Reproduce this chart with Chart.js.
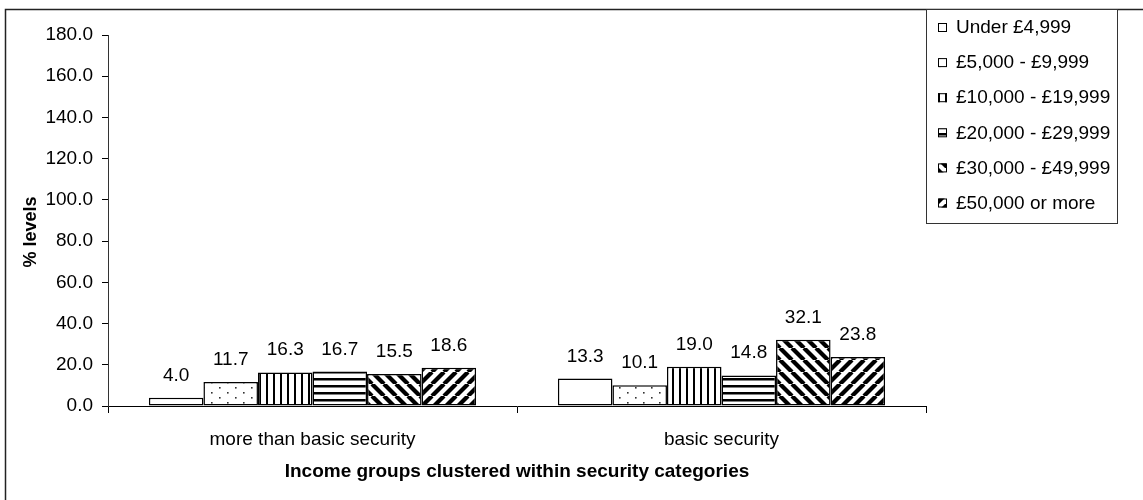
<!DOCTYPE html>
<html><head><meta charset="utf-8">
<script src="https://cdn.jsdelivr.net/npm/chart.js@4.4.1/dist/chart.umd.min.js"></script>
<style>html,body{margin:0;padding:0;background:#fff}#wrap{position:relative;width:1143px;height:500px}</style>
</head><body><div id="wrap"><canvas id="c"></canvas></div>
<script>
// ---- data ----
const categories = ['more than basic security', 'basic security'];
const seriesNames = ['Under £4,999', '£5,000 - £9,999', '£10,000 - £19,999', '£20,000 - £29,999', '£30,000 - £49,999', '£50,000 or more'];
const under5k = [4.0, 13.3];
const from5kTo10k = [11.7, 10.1];
const from10kTo20k = [16.3, 19.0];
const from20kTo30k = [16.7, 14.8];
const from30kTo50k = [15.5, 32.1];
const over50k = [18.6, 23.8];
const yMin = 0, yMax = 180, yStep = 20;
const xTitle = 'Income groups clustered within security categories';
const yTitle = '% levels';

// ---- patterns ----
const FONT = '"Liberation Sans", Arial, sans-serif';
const canvas = document.getElementById('c');
const mainCtx = canvas.getContext('2d');
function mk(w, h, draw) {
  const c = document.createElement('canvas'); c.width = w; c.height = h;
  const x = c.getContext('2d');
  x.fillStyle = '#fff'; x.fillRect(0, 0, w, h);
  x.fillStyle = '#000'; x.strokeStyle = '#000';
  draw(x, w, h);
  return mainCtx.createPattern(c, 'repeat');
}
const patWhite = '#ffffff';
const patDots = mk(16, 10, (x) => { x.fillStyle = '#333'; x.fillRect(3, 2, 1.6, 1.6); x.fillRect(11, 7, 1.6, 1.6); });
const patVert = mk(7, 7, (x) => { x.fillRect(0, 0, 2, 7); });
const patHorz = mk(7, 7, (x) => { x.fillRect(0, 0, 7, 2.5); });
const patBack = mk(12, 12, (x) => { x.lineWidth = 4.2; for (let k = -1; k <= 1; k++) { x.beginPath(); x.moveTo(k * 12, 0); x.lineTo(k * 12 + 12, 12); x.stroke(); } });
const patFwd = mk(12, 12, (x) => { x.lineWidth = 4.2; for (let k = -1; k <= 1; k++) { x.beginPath(); x.moveTo(k * 12, 12); x.lineTo(k * 12 + 12, 0); x.stroke(); } });

const seriesValues = [under5k, from5kTo10k, from10kTo20k, from20kTo30k, from30kTo50k, over50k];
const fills = [patWhite, patDots, patVert, patHorz, patBack, patFwd];

const datasets = seriesNames.map((n, i) => ({
  label: n, data: seriesValues[i], backgroundColor: fills[i],
  borderColor: '#000', borderWidth: 1.5, borderSkipped: false,
  barPercentage: 1.0, categoryPercentage: 0.8
}));

// ---- plugins ----
const framePlugin = {
  id: 'frame',
  beforeDraw(chart) {
    const ctx = chart.ctx; ctx.save();
    ctx.fillStyle = '#fff'; ctx.fillRect(0, 0, chart.width, chart.height);
    ctx.strokeStyle = '#222'; ctx.lineWidth = 1.5;
    ctx.beginPath(); ctx.moveTo(5.5, chart.height + 2); ctx.lineTo(5.5, 9.5); ctx.lineTo(chart.width + 2, 9.5); ctx.stroke();
    ctx.restore();
  }
};
const valuePlugin = {
  id: 'vals',
  afterDatasetsDraw(chart) {
    const ctx = chart.ctx; ctx.save();
    ctx.font = '19px ' + FONT; ctx.fillStyle = '#000'; ctx.textAlign = 'center'; ctx.textBaseline = 'alphabetic';
    chart.data.datasets.forEach((ds, i) => {
      chart.getDatasetMeta(i).data.forEach((bar, j) => { ctx.fillText(ds.data[j].toFixed(1), bar.x, bar.y - 17); });
    });
    ctx.restore();
  }
};
const legendPlugin = {
  id: 'boxLegend',
  afterDraw(chart) {
    const ctx = chart.ctx; ctx.save();
    const L = 926.5, T = 9.5, W = 191, H = 214;
    ctx.fillStyle = '#fff'; ctx.fillRect(L, T, W, H);
    ctx.strokeStyle = '#333'; ctx.lineWidth = 1; ctx.strokeRect(L, T, W, H);
    ctx.font = '19px ' + FONT; ctx.textAlign = 'left'; ctx.textBaseline = 'middle';
    chart.data.datasets.forEach((ds, i) => {
      const cy = 27 + i * 35.1;
      ctx.fillStyle = ds.backgroundColor; ctx.fillRect(938, cy - 4, 9, 9);
      ctx.strokeStyle = '#000'; ctx.lineWidth = 1; ctx.strokeRect(938.5, cy - 3.5, 8, 8);
      ctx.fillStyle = '#000'; ctx.fillText(ds.label, 956, cy + 1);
    });
    ctx.restore();
  }
};
const yTitlePlugin = {
  id: 'ytitle',
  afterDraw(chart) {
    const ctx = chart.ctx; ctx.save();
    ctx.translate(31, 232); ctx.rotate(-Math.PI / 2);
    ctx.font = 'bold 18px ' + FONT; ctx.fillStyle = '#000'; ctx.textAlign = 'center'; ctx.textBaseline = 'middle';
    ctx.fillText(yTitle, 0, 0);
    ctx.restore();
  }
};

new Chart(canvas, {
  type: 'bar',
  data: { labels: categories, datasets },
  plugins: [framePlugin, valuePlugin, legendPlugin, yTitlePlugin],
  options: {
    responsive: true, maintainAspectRatio: false, animation: false,
    layout: { padding: { top: 35, right: 217, bottom: 0, left: 0 } },
    plugins: { legend: { display: false }, tooltip: { enabled: false }, title: { display: false } },
    scales: {
      x: {
        afterFit(s) { s.height = 94; },
        grid: { display: true, offset: true, drawOnChartArea: false, drawTicks: true, tickLength: 7, color: '#000', lineWidth: 1 },
        border: { display: true, color: '#000', width: 1 },
        ticks: { color: '#000', font: { family: FONT, size: 19 }, padding: 15, maxRotation: 0 },
        title: { display: true, text: xTitle, color: '#000', font: { family: FONT, size: 19, weight: 'bold' }, padding: { top: 0, bottom: 17 } }
      },
      y: {
        min: yMin, max: yMax,
        afterFit(s) { s.width = 108; },
        grid: { display: true, drawOnChartArea: false, drawTicks: true, tickLength: 6, color: '#000', lineWidth: 1 },
        border: { display: true, color: '#333', width: 1 },
        ticks: { stepSize: yStep, color: '#000', font: { family: FONT, size: 19 }, padding: 9, callback: (v) => Number(v).toFixed(1) }
      }
    }
  }
});
</script></body></html>
